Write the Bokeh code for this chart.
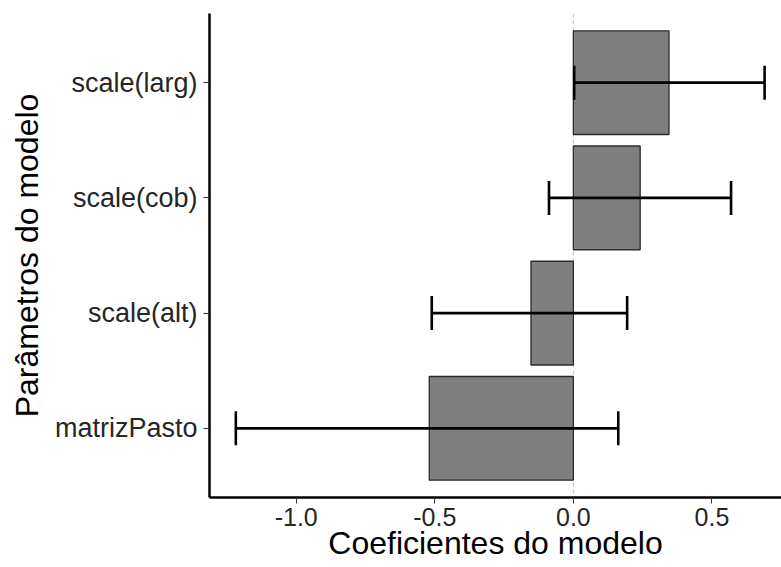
from bokeh.plotting import figure
from bokeh.models import Range1d, FixedTicker, Whisker, TeeHead, Span, ColumnDataSource
from bokeh.embed import file_html
from bokeh.resources import INLINE

# Data
params = ["matrizPasto", "scale(alt)", "scale(cob)", "scale(larg)"]
estimate = [-0.52, -0.153, 0.241, 0.345]
lower = [-1.218, -0.511, -0.088, 0.003]
upper = [0.162, 0.194, 0.569, 0.690]
x_ticks = [-1.0, -0.5, 0.0, 0.5]
x_tick_labels = ["-1.0", "-0.5", "0.0", "0.5"]
x_title = "Coeficientes do modelo"
y_title = "Parâmetros do modelo"

pos = list(range(1, len(params) + 1))
src = ColumnDataSource(dict(y=pos, est=estimate, lo=lower, hi=upper, zero=[0] * len(params)))

x_start, x_end = -1.313, 0.751
p = figure(width=781, height=567, output_backend="svg", toolbar_location=None,
           x_range=Range1d(x_start, x_end), y_range=Range1d(0.4, 4.6),
           min_border_left=209, min_border_right=0, min_border_top=13, min_border_bottom=70)

p.outline_line_color = None
p.xgrid.visible = False
p.ygrid.visible = False
p.background_fill_color = "white"
p.border_fill_color = "white"

zero_line = Span(location=0, dimension="height", line_color="#BEBEBE", line_dash="4 3",
                 line_width=1, level="underlay")
p.add_layout(zero_line)

p.hbar(y="y", left="zero", right="est", height=0.9, source=src,
       fill_color="#7F7F7F", line_color="#2b2b2b", line_width=1.3)

w = Whisker(source=src, base="y", lower="lo", upper="hi", dimension="width",
            line_color="black", line_width=2.6, level="annotation",
            lower_head=TeeHead(size=34, line_width=2.6, line_color="black"),
            upper_head=TeeHead(size=34, line_width=2.6, line_color="black"))
p.add_layout(w)

font = "Liberation Sans"

p.xaxis.ticker = FixedTicker(ticks=x_ticks)
p.xaxis.major_label_overrides = {t: l for t, l in zip(x_ticks, x_tick_labels)}
p.yaxis.ticker = FixedTicker(ticks=pos)
p.yaxis.major_label_overrides = {i: n for i, n in zip(pos, params)}

for ax in (p.xaxis, p.yaxis):
    ax.axis_line_width = 2.5
    ax.axis_line_color = "black"
    ax.major_tick_line_color = "#333333"
    ax.major_tick_line_width = 1
    ax.major_tick_out = 6
    ax.major_tick_in = 0
    ax.minor_tick_line_color = None
    ax.major_label_text_font = font
    ax.major_label_text_color = "#262626"
    ax.axis_label_text_font = font
    ax.axis_label_text_font_size = "32px"
    ax.axis_label_text_font_style = "normal"
    ax.axis_label_text_color = "black"

p.xaxis.major_label_text_font_size = "25px"
p.yaxis.major_label_text_font_size = "27px"
p.xaxis.axis_label = x_title
p.yaxis.axis_label = y_title
p.xaxis.major_label_standoff = 4
p.yaxis.major_label_standoff = 6
p.xaxis.axis_label_standoff = -4
p.yaxis.axis_label_standoff = 7

open("out.html", "w").write(file_html(p, INLINE))
